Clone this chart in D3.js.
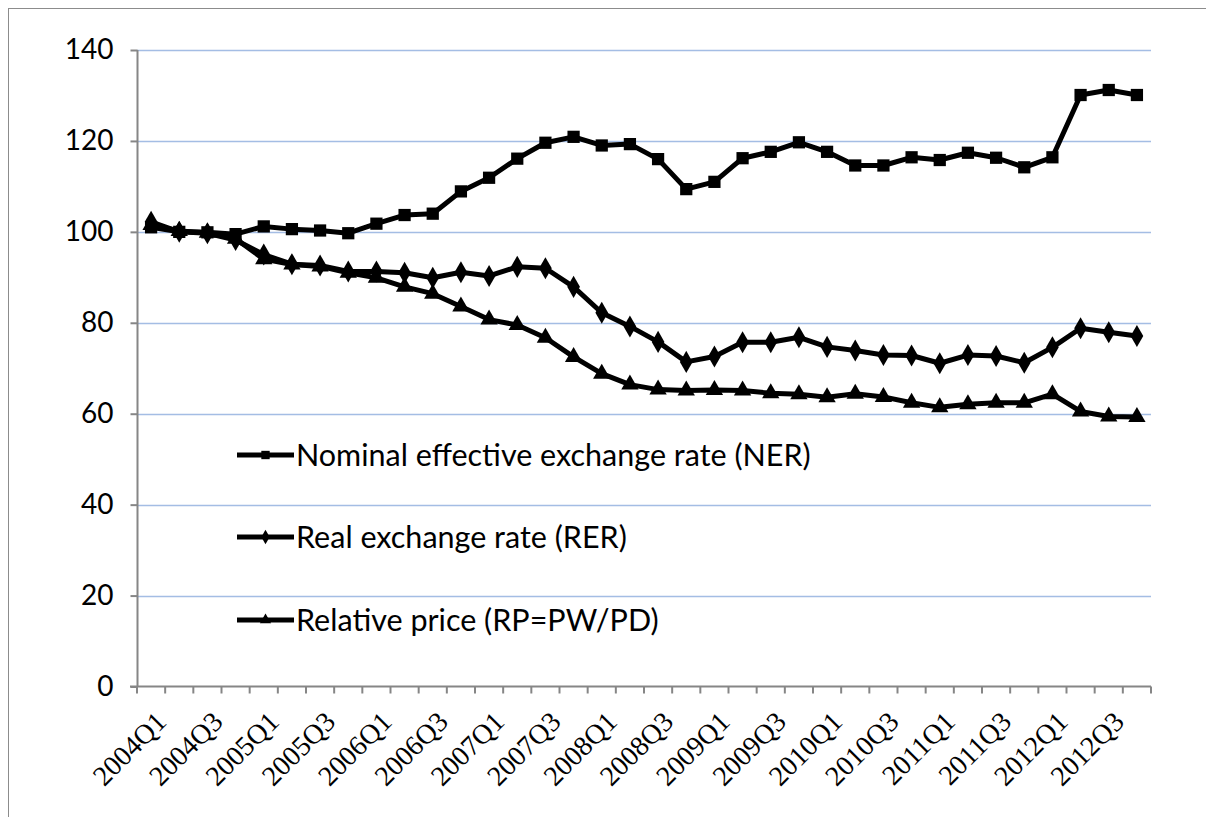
<!DOCTYPE html>
<html>
<head>
<meta charset="utf-8">
<script src="https://cdn.jsdelivr.net/npm/d3@7"></script>
<style>
  html, body { margin: 0; padding: 0; background: #fff; }
  svg { display: block; }
</style>
</head>
<body>
<svg id="chart" width="1206" height="817"></svg>
<script>
const quarters = [
  "2004Q1","2004Q2","2004Q3","2004Q4","2005Q1","2005Q2","2005Q3","2005Q4",
  "2006Q1","2006Q2","2006Q3","2006Q4","2007Q1","2007Q2","2007Q3","2007Q4",
  "2008Q1","2008Q2","2008Q3","2008Q4","2009Q1","2009Q2","2009Q3","2009Q4",
  "2010Q1","2010Q2","2010Q3","2010Q4","2011Q1","2011Q2","2011Q3","2011Q4",
  "2012Q1","2012Q2","2012Q3","2012Q4"
];
const tickLabels = [
  "2004Q1","2004Q3","2005Q1","2005Q3","2006Q1","2006Q3","2007Q1","2007Q3",
  "2008Q1","2008Q3","2009Q1","2009Q3","2010Q1","2010Q3","2011Q1","2011Q3",
  "2012Q1","2012Q3"
];
const yTicks = [0, 20, 40, 60, 80, 100, 120, 140];

const nerValues = [101.0, 100.0, 99.9, 99.5, 101.2, 100.6, 100.3, 99.7, 101.8, 103.7, 104.0, 108.9,
  111.9, 116.1, 119.6, 120.9, 119.0, 119.3, 116.0, 109.4, 111.0, 116.2, 117.6, 119.7,
  117.6, 114.6, 114.6, 116.4, 115.8, 117.4, 116.3, 114.2, 116.4, 130.1, 131.2, 130.1];
const rerValues = [102.2, 100.0, 99.7, 98.2, 95.0, 92.9, 92.6, 91.3, 91.3, 91.0, 89.9, 91.1,
  90.3, 92.3, 92.0, 87.9, 82.2, 79.2, 75.8, 71.4, 72.6, 75.7, 75.7, 76.8,
  74.7, 73.9, 72.9, 72.8, 71.1, 72.9, 72.7, 71.2, 74.6, 78.8, 77.9, 77.1];
const rpValues = [101.5, 100.2, 99.8, 98.5, 94.0, 92.8, 92.4, 91.0, 89.9, 87.9, 86.4, 83.6,
  80.7, 79.5, 76.7, 72.5, 68.8, 66.4, 65.3, 65.1, 65.2, 65.1, 64.5, 64.3,
  63.6, 64.4, 63.7, 62.4, 61.4, 62.1, 62.4, 62.4, 64.3, 60.5, 59.4, 59.3];

const seriesNames = [
  "Nominal effective exchange rate (NER)",
  "Real exchange rate (RER)",
  "Relative price (RP=PW/PD)"
];
const series = [
  { name: seriesNames[0], values: nerValues, symbol: d3.symbolSquare, size: 150, legendSize: 70 },
  { name: seriesNames[1], values: rerValues, symbol: d3.symbolDiamond, size: 140, legendSize: 60 },
  { name: seriesNames[2], values: rpValues, symbol: d3.symbolTriangle, size: 130, legendSize: 55 }
];

const sansFont = "Lato";
const serifFont = "'Liberation Serif'";

const svg = d3.select("#chart");

// outer frame
svg.append("rect")
  .attr("x", 8.5).attr("y", 8.5)
  .attr("width", 1400).attr("height", 1000)
  .attr("fill", "none").attr("stroke", "#8c8c8c").attr("stroke-width", 1);

const x = d3.scaleBand().domain(quarters).range([137, 1151]).padding(0);
const y = d3.scaleLinear().domain([0, 140]).range([686.5, 50]);

// gridlines
svg.append("g").selectAll("line")
  .data(yTicks.filter(v => v > 0))
  .join("line")
  .attr("x1", 137).attr("x2", 1151)
  .attr("y1", d => Math.round(y(d)) + 0.5).attr("y2", d => Math.round(y(d)) + 0.5)
  .attr("stroke", "#a4bde4").attr("stroke-width", 1.5);

// y axis
const yAxis = svg.append("g")
  .attr("transform", "translate(137.5,0)")
  .call(d3.axisLeft(y).tickValues(yTicks).tickSize(7).tickPadding(17).tickFormat(d3.format("d")));
yAxis.attr("font-family", sansFont).attr("font-size", 28);
yAxis.select(".domain").attr("stroke", "#868686").attr("stroke-width", 2).attr("d", `M0,${y(140)}V${y(0)}`);
yAxis.selectAll(".tick line").attr("stroke", "#868686").attr("stroke-width", 2);
yAxis.selectAll(".tick text").attr("fill", "#000");

// x axis line and ticks
const xAxisG = svg.append("g");
xAxisG.append("line")
  .attr("x1", 130).attr("x2", 1151)
  .attr("y1", y(0)).attr("y2", y(0))
  .attr("stroke", "#868686").attr("stroke-width", 2);
const boundaries = quarters.map(q => x(q)).concat([x.range()[1]]);
xAxisG.selectAll("line.tk")
  .data(boundaries)
  .join("line").attr("class", "tk")
  .attr("x1", d => d).attr("x2", d => d)
  .attr("y1", y(0)).attr("y2", y(0) + 7)
  .attr("stroke", "#868686").attr("stroke-width", 2);

xAxisG.selectAll("text.xl")
  .data(tickLabels)
  .join("text").attr("class", "xl")
  .attr("transform", d => `translate(${x(d) + x.bandwidth() / 2 + 10},${y(0) + 30}) rotate(-45)`)
  .attr("text-anchor", "end")
  .attr("dy", "0.35em")
  .style("font-family", serifFont)
  .style("font-size", "28px")
  .attr("fill", "#000")
  .text(d => d);

// lines
const line = d3.line()
  .x((d, i) => x(quarters[i]) + x.bandwidth() / 2)
  .y(d => y(d));

const sg = svg.append("g").selectAll("g.series")
  .data(series).join("g").attr("class", "series");

sg.append("path")
  .attr("d", d => line(d.values))
  .attr("fill", "none")
  .attr("stroke", "#000")
  .attr("stroke-width", 5)
  .attr("stroke-linejoin", "round");

sg.each(function (s) {
  d3.select(this).selectAll("path.mk")
    .data(s.values)
    .join("path").attr("class", "mk")
    .attr("transform", (d, i) => `translate(${x(quarters[i]) + x.bandwidth() / 2},${y(d)})`)
    .attr("d", d3.symbol().type(s.symbol).size(s.size))
    .attr("fill", "#000");
});

// legend
const legendY = [455, 537, 620];
const lg = svg.append("g").selectAll("g.lg")
  .data(series).join("g").attr("class", "lg")
  .attr("transform", (d, i) => `translate(237,${legendY[i]})`);
lg.append("line")
  .attr("x1", 0).attr("x2", 57).attr("y1", 0).attr("y2", 0)
  .attr("stroke", "#000").attr("stroke-width", 5);
lg.append("path")
  .attr("transform", "translate(28.5,0)")
  .attr("d", d => d3.symbol().type(d.symbol).size(d.legendSize)())
  .attr("fill", "#000");
lg.append("text")
  .attr("x", 59).attr("y", 0).attr("dy", "0.36em")
  .attr("font-family", sansFont)
  .attr("font-size", 30.5)
  .attr("fill", "#000")
  .text(d => d.name);
</script>
</body>
</html>
